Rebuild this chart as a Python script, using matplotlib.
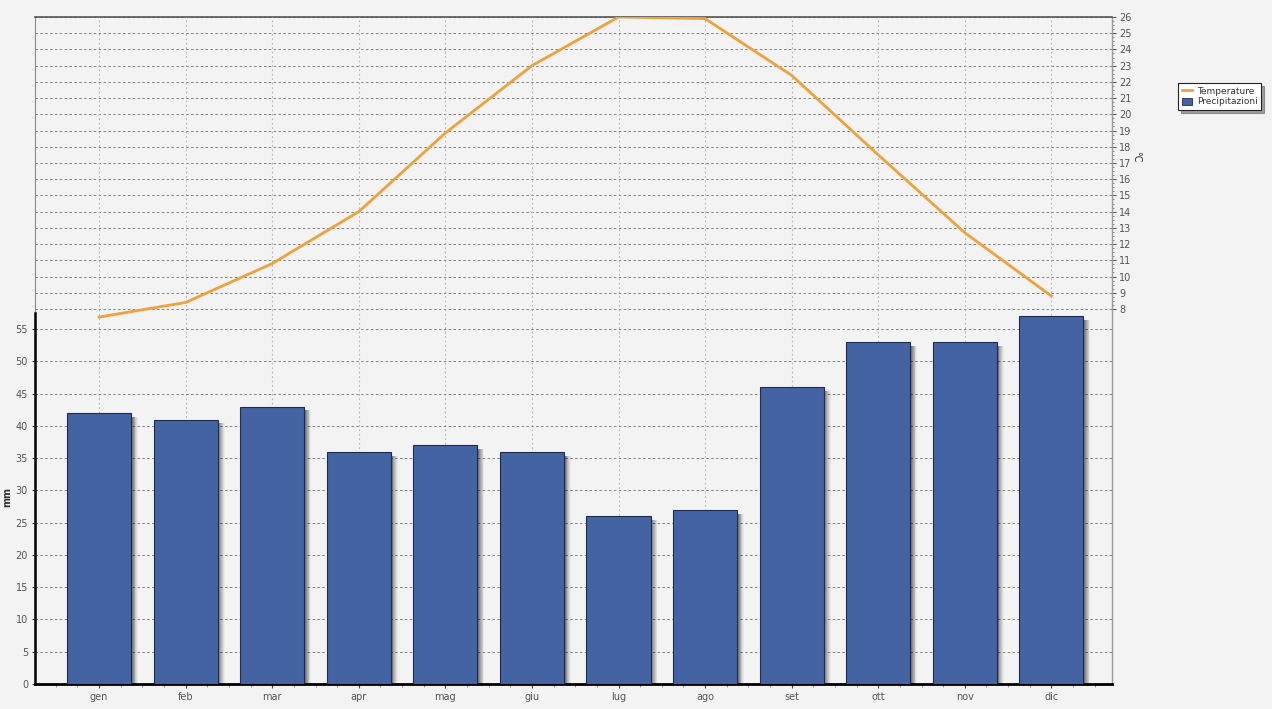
import matplotlib
matplotlib.use("Agg")
import matplotlib.pyplot as plt
from matplotlib.ticker import FixedLocator
from matplotlib.lines import Line2D
from matplotlib.patches import Patch

# Monthly climate data
months = ["gen", "feb", "mar", "apr", "mag", "giu", "lug", "ago", "set", "ott", "nov", "dic"]
precipitazioni = [42, 41, 43, 36, 37, 36, 26, 27, 46, 53, 53, 57]
temperature = [7.5, 8.4, 10.8, 14.0, 18.85, 23.0, 26.0, 25.9, 22.4, 17.5, 12.7, 8.8]
mm_ticks = list(range(0, 60, 5))
temp_ticks = list(range(8, 27))

bar_color = "#4463a3"
line_color = "#f0a13a"
bg = "#f0f0f0"

fig = plt.figure(figsize=(12.72, 7.09), dpi=100, facecolor="#f3f3f3")
ax = fig.add_axes([35 / 1272, 25 / 709, (1112 - 35) / 1272, 667 / 709])
ax2 = ax.twinx()

# Precipitation axis sits above the temperature axis so its black spine is visible
ax.set_zorder(ax2.get_zorder() + 1)
ax.patch.set_visible(False)
ax2.set_facecolor(bg)

x = list(range(len(months)))
width = 0.74

# soft shadow on the right side of each bar
n_steps = 8
step = 0.010
for i in range(n_steps):
    off = width / 2 + i * step
    ax.bar([v + off for v in x], [p - 0.6 for p in precipitazioni], width=step,
           align="edge", color="black", alpha=0.6 * (1 - i / n_steps) ** 1.3,
           linewidth=0, zorder=2)

ax.bar(x, precipitazioni, width=width, color=bar_color, edgecolor="#1c2b4f",
       linewidth=0.8, zorder=3, label="Precipitazioni")

ax2.plot(x, temperature, color=line_color, linewidth=2, zorder=3, label="Temperature")

# Axis limits: mm scale fills the lower part, °C scale the upper part
ax.set_xlim(-0.74, 11.7)
ax.set_ylim(0, 103.4)
ax2.set_ylim(26 - 667 / 16.22, 26)

ax.set_xticks(x)
ax.set_xticklabels(months, fontsize=7, color="#555555")
ax.xaxis.set_minor_locator(FixedLocator([v + d for v in x for d in (-0.5, -0.25, 0.25)] + [11.5]))
ax.tick_params(axis="x", which="major", length=3, color="#444444", pad=3)
ax.tick_params(axis="x", which="minor", length=2, color="#888888")

ax.set_yticks(mm_ticks)
ax.set_yticklabels([str(t) for t in mm_ticks], fontsize=7, color="#555555")
ax.tick_params(axis="y", length=2, color="#444444", pad=3)

ax2.set_yticks(temp_ticks)
ax2.set_yticklabels([str(t) for t in temp_ticks], fontsize=7, color="#555555")
ax2.yaxis.set_minor_locator(FixedLocator([t + d for t in temp_ticks[:-1] for d in (0.25, 0.5, 0.75)]))
ax2.tick_params(axis="y", which="major", length=3, color="#555555", pad=2)
ax2.tick_params(axis="y", which="minor", length=1.5, color="#777777")

# Grid lines
ax.set_axisbelow(True)
ax.grid(axis="y", linestyle=(0, (2.5, 2.5)), color="#808080", linewidth=0.7)
ax.grid(axis="x", linestyle=(0, (1.5, 2.5)), color="#b5b5b5", linewidth=0.8)
ax2.grid(axis="y", linestyle=(0, (2.5, 2.5)), color="#808080", linewidth=0.7)

# Spines
for s in ("top", "right"):
    ax.spines[s].set_visible(False)
ax.spines["left"].set_bounds(0, 57.5)
ax.spines["left"].set_linewidth(1.8)
ax.spines["left"].set_color("black")
ax.spines["bottom"].set_linewidth(2)
ax.spines["bottom"].set_color("black")

ax2.spines["top"].set_color("#555555")
ax2.spines["top"].set_linewidth(1.2)
ax2.spines["left"].set_color("#8a8a8a")
ax2.spines["left"].set_linewidth(0.8)
ax2.spines["right"].set_color("#9a9a9a")
ax2.spines["right"].set_linewidth(1.0)
ax2.spines["bottom"].set_visible(False)

ax.set_ylabel("mm", fontsize=7, fontweight="bold", color="#333333")
ax.yaxis.set_label_coords(-0.021, 0.28)
ax2.set_ylabel("°C", fontsize=7, color="#333333", rotation=-90, va="center")
ax2.yaxis.set_label_coords(1.022, 0.79)

handles = [Line2D([0], [0], color=line_color, linewidth=2),
           Patch(facecolor=bar_color, edgecolor="#1c2b4f", linewidth=0.6)]
leg = fig.legend(handles, ["Temperature", "Precipitazioni"], loc="upper left",
                 bbox_to_anchor=(1178 / 1272, 1 - 83 / 709), fontsize=6.5,
                 frameon=True, fancybox=False, shadow=True, handlelength=1.2,
                 handleheight=0.9, handletextpad=0.5, borderpad=0.4, labelspacing=0.2,
                 borderaxespad=0)
leg.get_frame().set_edgecolor("#222222")
leg.get_frame().set_facecolor("white")
leg.get_frame().set_linewidth(0.8)
for t in leg.get_texts():
    t.set_color("#333333")

fig.savefig("out.png", dpi=100, facecolor=fig.get_facecolor())
